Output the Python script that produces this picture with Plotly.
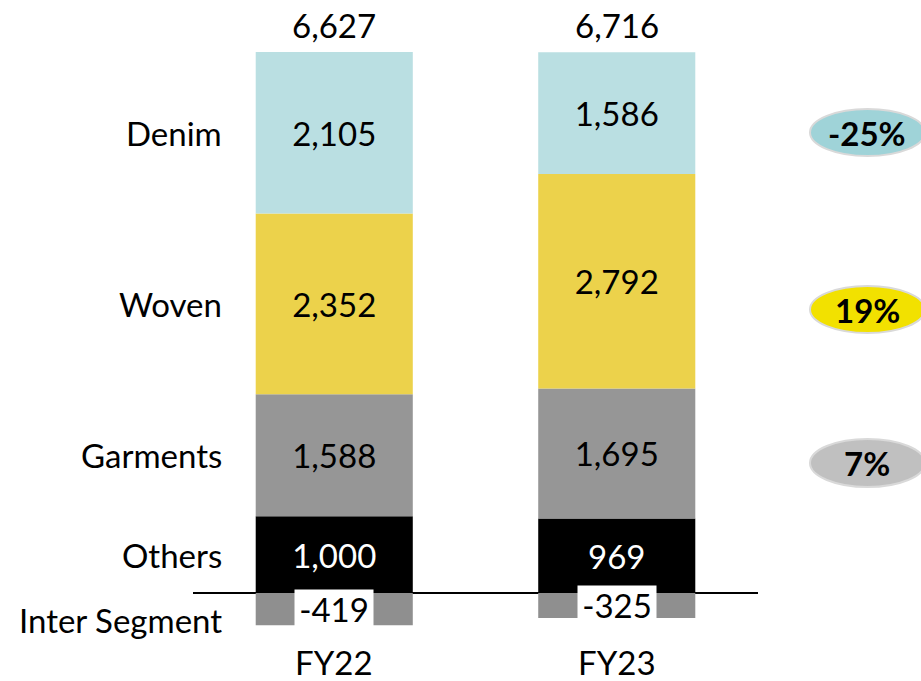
import plotly.graph_objects as go

# ---- data ----
years = ["FY22", "FY23"]
others = [1000, 969]
garments = [1588, 1695]
woven = [2352, 2792]
denim = [2105, 1586]
inter_segment = [-419, -325]
totals = ["6,627", "6,716"]
segment_names = ["Denim", "Woven", "Garments", "Others", "Inter Segment"]
growth_labels = ["-25%", "19%", "7%"]

# ---- styling / layout constants ----
FONT = "Lato, 'Open Sans', sans-serif"
FS = 33
W, H = 921, 681
ML, MT, PW, PH = 193, 40, 565, 600
MR, MB = W - ML - PW, H - MT - PH
Y0, Y1 = -612, 7200

def px_x(p):  # screen pixel -> paper x
    return (p - ML) / PW

def px_y(p):  # screen pixel -> paper y
    return (MT + PH - p) / PH

fig = go.Figure()

def seg(name, vals, color, tcolor):
    fig.add_trace(go.Bar(
        x=years, y=vals, name=name,
        marker=dict(color=color, line=dict(width=0)),
        texttemplate="%{y:,}", textposition="inside",
        insidetextanchor="middle", textangle=0,
        textfont=dict(family=FONT, size=FS, color=tcolor),
        constraintext="none",
    ))

seg("Others", others, "#000000", "#FFFFFF")
seg("Garments", garments, "#969696", "#000000")
seg("Woven", woven, "#ECD24B", "#000000")
seg("Denim", denim, "#BADFE2", "#000000")

fig.add_trace(go.Bar(
    x=years, y=inter_segment, name="Inter Segment",
    marker=dict(color="#FFFFFF", line=dict(width=0),
                pattern=dict(shape=".", size=2, solidity=0.5,
                             fgcolor="#000000", bgcolor="#FFFFFF",
                             fillmode="replace")),
))

annotations = []
for i, yr in enumerate(years):
    top = others[i] + garments[i] + woven[i] + denim[i]
    annotations.append(dict(x=yr, y=top, xref="x", yref="y", text=totals[i],
                            showarrow=False, xanchor="center", yanchor="bottom", yshift=5,
                            font=dict(family=FONT, size=FS, color="#000")))
    annotations.append(dict(x=yr, y=inter_segment[i] / 2, xref="x", yref="y",
                            text=f"{inter_segment[i]:,}", showarrow=False,
                            xanchor="center", yanchor="middle",
                            bgcolor="#FFFFFF", width=76, height=36, borderpad=1,
                            font=dict(family=FONT, size=FS, color="#000")))

# category labels on the left, aligned to FY22 segment middles
mids = [
    others[0] + garments[0] + woven[0] + denim[0] / 2,
    others[0] + garments[0] + woven[0] / 2,
    others[0] + garments[0] / 2,
    others[0] / 2,
    inter_segment[0] / 2,
]
for name, m in zip(segment_names, mids):
    annotations.append(dict(x=px_x(224), y=m, xref="paper", yref="y", text=name,
                            showarrow=False, xanchor="right", yanchor="middle",
                            yshift=-11 if name == "Inter Segment" else 0,
                            font=dict(family=FONT, size=FS, color="#000")))

# FY labels
for i, yr in enumerate(years):
    annotations.append(dict(x=yr, y=px_y(662), xref="x", yref="paper", text=yr,
                            showarrow=False, xanchor="center", yanchor="middle",
                            font=dict(family=FONT, size=FS, color="#000")))

# growth ellipses
shapes = []
ell = [("#9FD3D8", 109, 156), ("#F2E100", 286, 333), ("#C0C0C0", 439, 487)]
for (col, t, b), lab in zip(ell, growth_labels):
    shapes.append(dict(type="circle", xref="paper", yref="paper",
                       x0=px_x(810), x1=px_x(925), y0=px_y(b), y1=px_y(t),
                       fillcolor=col, line=dict(color="#D9D9D9", width=2)))
    annotations.append(dict(x=px_x(867), y=px_y((t + b) / 2), xref="paper", yref="paper",
                            text=f"<b>{lab}</b>", showarrow=False,
                            xanchor="center", yanchor="middle",
                            font=dict(family=FONT, size=FS, color="#000")))

fig.update_layout(
    width=W, height=H, barmode="relative", bargap=0.444,
    margin=dict(l=ML, r=MR, t=MT, b=MB),
    paper_bgcolor="#FFFFFF", plot_bgcolor="#FFFFFF",
    showlegend=False, annotations=annotations, shapes=shapes,
    font=dict(family=FONT, size=FS, color="#000"),
)
fig.update_xaxes(range=[-0.5, 1.5], showgrid=False, showline=False, ticks="",
                 showticklabels=False)
fig.update_yaxes(range=[Y0, Y1], showgrid=False, showticklabels=False, ticks="",
                 zeroline=True, zerolinecolor="#000000", zerolinewidth=1.5)

fig.write_html("out.html", config={"displayModeBar": False},
               post_script="document.body.style.margin='0';")
